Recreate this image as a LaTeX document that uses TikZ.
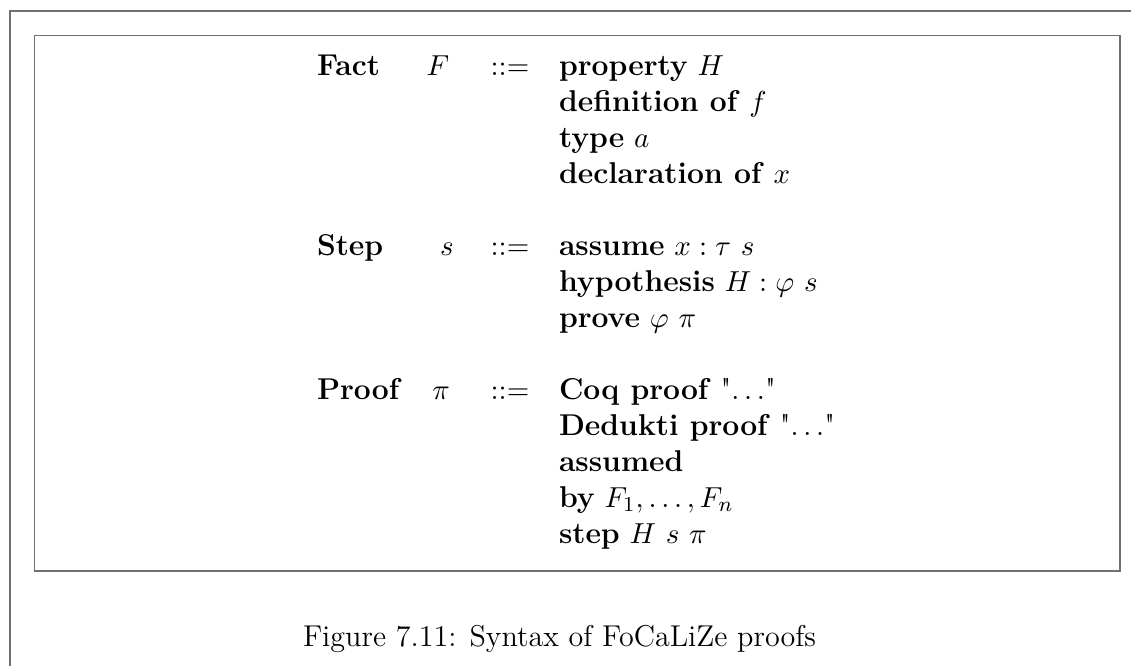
\documentclass[tikz,border=0pt]{standalone}
\usepackage{fontspec}
\usepackage{xcolor}
\usepackage{amsmath}
\usepackage{amssymb}

\definecolor{framegray}{RGB}{112,112,112}

\begin{document}
\begin{tikzpicture}[x=0.3788pt,y=-0.3788pt,
        font=\fontsize{11.4}{13.6}\selectfont,
        every node/.style={inner sep=0pt,outer sep=0pt}]
        \tikzstyle{frame}=[draw=framegray,line width=0.75pt]
        \tikzstyle{cat}=[anchor=base west,font=\fontsize{11.4}{13.6}\selectfont\bfseries]
        \tikzstyle{meta}=[anchor=base]
        \tikzstyle{prod}=[anchor=base west]

        \useasboundingbox (0,0) rectangle (1131,666);

        % frames
        \draw[frame] (10,666) -- (10,11) -- (1131,11);
        \draw[frame] (34.5,35.5) rectangle (1120,571);

        % facts
        \node[cat]  (fact)    at (317,75)  {Fact};
        \node[meta] (F)       at (438,75)  {$F$};
        \node[meta] (factdef) at (510,75)  {$::=$};
        \node[prod] (prop)    at (559,75)  {\textbf{property} $H$};
        \node[prod] (defn)    at (559,111) {\textbf{definition of} $f$};
        \node[prod] (type)    at (559,147) {\textbf{type} $a$};
        \node[prod] (decl)    at (559,183) {\textbf{declaration of} $x$};

        % steps
        \node[cat]  (step)    at (317,255) {Step};
        \node[meta] (s)       at (447,255) {$s$};
        \node[meta] (stepdef) at (510,255) {$::=$};
        \node[prod] (assume)  at (559,255) {\textbf{assume} $x : \tau~s$};
        \node[prod] (hyp)     at (559,291) {\textbf{hypothesis} $H : \varphi~s$};
        \node[prod] (prove)   at (559,327) {\textbf{prove} $\varphi~\pi$};

        % proofs
        \node[cat]  (proof)    at (317,399) {Proof};
        \node[meta] (pi)       at (441,399) {$\pi$};
        \node[meta] (proofdef) at (510,399) {$::=$};
        \node[prod] (coq)      at (559,399) {\textbf{Coq proof} \textquotedbl$\ldots$\textquotedbl};
        \node[prod] (dedukti)  at (559,435) {\textbf{Dedukti proof} \textquotedbl$\ldots$\textquotedbl};
        \node[prod] (assumed)  at (559,471) {\textbf{assumed}};
        \node[prod] (by)       at (559,507) {\textbf{by} $F_1, \ldots, F_n$};
        \node[prod] (stepH)    at (559,543) {\textbf{step} $H~s~\pi$};

        \node[prod] (caption) at (303,646) {Figure 7.11: Syntax of FoCaLiZe proofs};
    \end{tikzpicture}
\end{document}
